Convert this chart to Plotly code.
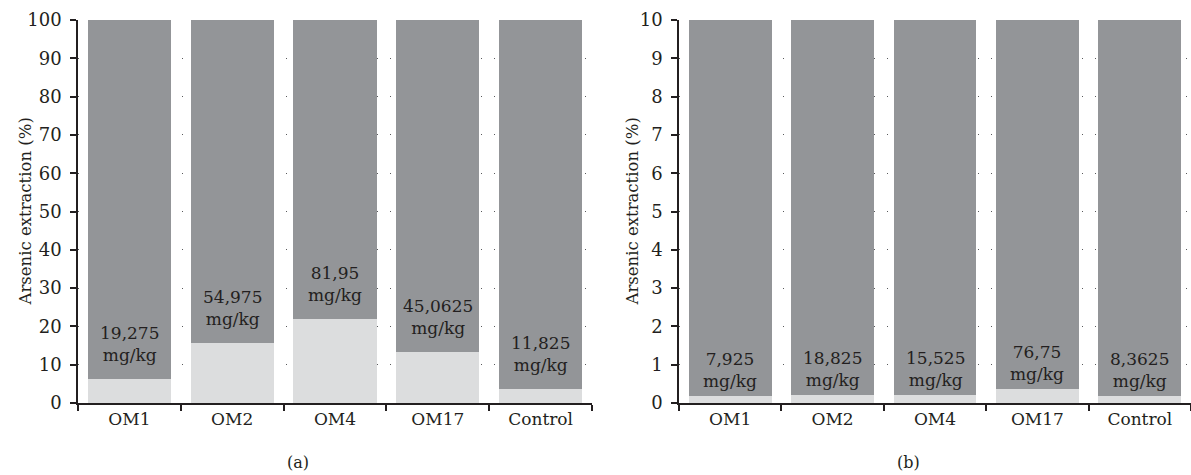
import plotly.graph_objects as go

categories = ["OM1", "OM2", "OM4", "OM17", "Control"]

# Panel (a): percent of arsenic extracted (light) and remainder (dark)
light_a = [6.3, 15.6, 21.9, 13.3, 3.7]
dark_a = [93.7, 84.4, 78.1, 86.7, 96.3]
labels_a = ["19,275", "54,975", "81,95", "45,0625", "11,825"]

# Panel (b)
light_b = [0.18, 0.21, 0.21, 0.37, 0.18]
dark_b = [9.82, 9.79, 9.79, 9.63, 9.82]
labels_b = ["7,925", "18,825", "15,525", "76,75", "8,3625"]

W, H = 1191, 475
FONT = "DejaVu Serif"
TXT = "#231f20"
DARK = "#939598"
LIGHT = "#dcddde"
AX = "#231f20"

fig = go.Figure()

for xa, ya, light, dark in [("x", "y", light_a, dark_a), ("x2", "y2", light_b, dark_b)]:
    fig.add_trace(go.Bar(x=categories, y=light, marker=dict(color=LIGHT, line=dict(width=0)),
                         xaxis=xa, yaxis=ya, showlegend=False, hoverinfo="skip"))
    fig.add_trace(go.Bar(x=categories, y=dark, marker=dict(color=DARK, line=dict(width=0)),
                         xaxis=xa, yaxis=ya, showlegend=False, hoverinfo="skip"))

annotations = []
for xref, yref, light, labels, shift in [("x", "y", light_a, labels_a, 35),
                                          ("x2", "y2", light_b, labels_b, 26)]:
    for c, v, lab in zip(categories, light, labels):
        annotations.append(dict(x=c, y=v, xref=xref, yref=yref, text=f"{lab}<br>mg/kg",
                                showarrow=False, yanchor="middle", yshift=shift,
                                font=dict(family=FONT, size=17, color=TXT)))

# axis titles and panel labels
for xp in [25 / W, 632 / W]:
    annotations.append(dict(x=xp, y=0.5, xref="paper", yref="paper", text="Arsenic extraction (%)",
                            textangle=-90, showarrow=False, xanchor="center", yanchor="middle",
                            font=dict(family=FONT, size=16.5, color=TXT)))
for xp, lab in [(298 / W, "(a)"), (908 / W, "(b)")]:
    annotations.append(dict(x=xp, y=(403 - 463) / 383, xref="paper", yref="paper", text=lab,
                            showarrow=False, xanchor="center", yanchor="middle",
                            font=dict(family=FONT, size=16, color=TXT)))

xcommon = dict(type="category", showline=True, linecolor=AX, linewidth=1.5,
               ticks="outside", tickson="boundaries", ticklen=6, tickcolor=AX, tickwidth=1.5,
               showgrid=False, tickfont=dict(family=FONT, size=17, color=TXT), range=[-0.5, 4.5])
ycommon = dict(showline=True, linecolor=AX, linewidth=1.5, ticks="outside", ticklen=6,
               tickcolor=AX, tickwidth=1.5, showgrid=True, gridcolor="#58595b", gridwidth=1,
               griddash="1px,12px", zeroline=False, ticklabelstandoff=5,
               tickfont=dict(family=FONT, size=18, color=TXT))

fig.update_layout(
    width=W, height=H,
    margin=dict(l=0, r=0, t=20, b=72),
    paper_bgcolor="white", plot_bgcolor="white",
    barmode="stack", bargap=0.19,
    xaxis=dict(domain=[78 / W, 592 / W], anchor="y", **xcommon),
    yaxis=dict(domain=[0, 1], anchor="x", range=[0, 100], dtick=10, **ycommon),
    xaxis2=dict(domain=[679 / W, 1.0], anchor="y2", **xcommon),
    yaxis2=dict(domain=[0, 1], anchor="x2", range=[0, 10], dtick=1, **ycommon),
    annotations=annotations,
    font=dict(family=FONT, color=TXT),
)

fig.write_html("out.html")
